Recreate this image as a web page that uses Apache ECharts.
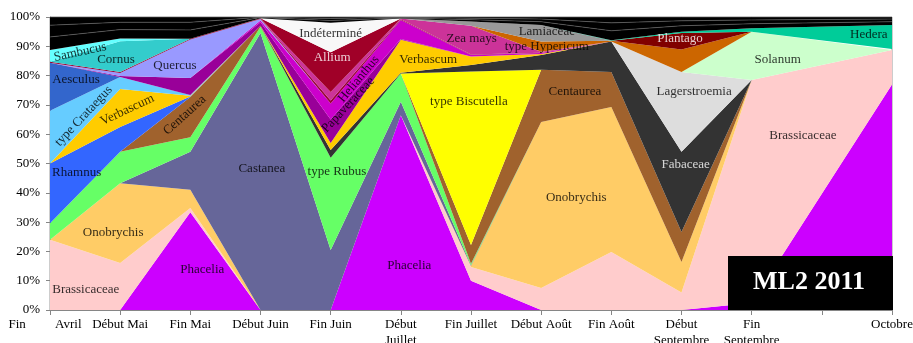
<!DOCTYPE html>
<html>
<head>
<meta charset="utf-8">
<script src="https://cdn.jsdelivr.net/npm/echarts@6/dist/echarts.min.js"></script>
<style>
html,body{margin:0;padding:0;background:#fff}
#chart{width:913px;height:343px}
</style>
</head>
<body>
<div id="chart"></div>
<script>
// dates de prélèvement (position sur l'axe) et libellés des graduations
var xPos = [0, 1, 2, 3, 4, 5, 6, 7, 8, 9, 10, 12];
var tickLabels = ['Fin         Avril', 'Début Mai', 'Fin Mai', 'Début Juin', 'Fin Juin', 'Début\nJuillet',
  'Fin Juillet', 'Début Août', 'Fin Août', 'Début\nSeptembre', 'Fin\nSeptembre', '', 'Octobre'];

// pourcentages par taxon (ordre d'empilement, du bas vers le haut)
var phacelia      = [0, 0, 33.4, 0, 0, 66.5, 10, 0, 0, 0, 2.4, 77];
var brassicaceae  = [24, 16, 1.4, 0, 0, 0, 4.7, 7.5, 19.8, 6, 76.1, 11.7];
var onobrychis    = [0, 27.3, 6.2, 0, 0, 0, 0.3, 56.7, 49.5, 10.4, 0, 0];
var castanea      = [0, 0, 13, 94.5, 20.5, 4.6, 0.3, 0, 0, 0, 0, 0];
var rubus         = [5.6, 10.7, 5, 2.2, 31.5, 9.6, 0.5, 0, 0, 0, 0, 0];
var centaurea     = [0, 0, 13.7, 0.3, 0, 0, 6.4, 17.8, 11.9, 10.2, 0, 0];
var rhamnus       = [20.4, 8.5, 0.2, 0, 0, 0, 0, 0, 0, 0, 0, 0];
var biscutella    = [0, 0, 0, 0, 0, 0, 59.2, 0, 0, 0, 0, 0];
var fabaceae      = [0, 0, 0, 0, 2.6, 0.3, 2.2, 5, 10.4, 27.4, 0, 0];
var verbascum     = [0, 12.9, 0.2, 0, 2.4, 11.2, 2.9, 0.4, 0, 0, 0, 0];
var crataegus     = [18, 4.1, 0.2, 0, 0, 0, 0, 0, 0, 0, 0, 0];
var aesculus      = [16.4, 0, 0.1, 0, 0, 0, 0, 0, 0, 0, 0, 0];
var papaveraceae  = [0, 0.4, 5.8, 1.2, 8, 0.3, 0, 0, 0, 0, 0, 0];
var helianthus    = [0, 0, 0, 0.6, 5.5, 6.5, 0.5, 0.3, 0, 0, 0, 0];
var quercus       = [0, 1, 13.1, 0.5, 0, 0, 0, 0, 0, 0, 0, 0];
var autreRouge    = [0.3, 0.3, 0.3, 0.2, 1, 0.2, 0.2, 0.1, 0, 0, 0, 0];
var zeaMays       = [0, 0, 0, 0, 2.9, 0.3, 9.8, 0.3, 0, 0, 0, 0];
var allium        = [0, 0, 0, 0.1, 13.6, 0, 0, 0, 0, 0, 0, 0];
var cornus        = [0, 10.5, 0, 0, 0, 0, 0, 0, 0, 0, 0, 0];
var sambucus      = [4, 1, 0, 0, 0, 0, 0, 0, 0, 0, 0, 0];
var lagerstroemia = [0, 0, 0, 0, 0, 0, 0, 0, 0, 27.2, 0, 0];
var solanum       = [0, 0, 0, 0, 0, 0, 0, 0, 0, 0, 16.5, 0];
var hypericum     = [0, 0, 0, 0, 0, 0, 0, 3.5, 0.3, 7.7, 0, 0.4];
var lamiaceae     = [0, 0, 0, 0, 0, 0, 1.5, 5.7, 0, 0, 0, 0];
var plantago      = [0, 0, 0, 0, 0, 0, 0, 0, 0, 5.6, 0, 0];
var indetermine   = [0, 0, 0, 0, 10, 0, 0, 0, 0, 0, 0, 0];
var hedera        = [0, 0, 0, 0, 0, 0, 0, 0, 0.2, 0.5, 1.2, 8.2];
var autres1       = [4.5, 3, 3, 0.2, 0.8, 0.2, 0.6, 1.1, 3.2, 2, 1.5, 1.1];
var autres2       = [4, 2.5, 2.6, 0.1, 0.7, 0.2, 0.5, 0.9, 2.7, 1.7, 1.3, 0.9];
var autres3       = [2.8, 1.8, 1.8, 0.1, 0.5, 0.1, 0.4, 0.7, 2, 1.3, 1, 0.7];

var taxa = [
  ['Phacelia', phacelia, '#CC00FF'],
  ['Brassicaceae', brassicaceae, '#FFCCCC'],
  ['Onobrychis', onobrychis, '#FFCC66'],
  ['Castanea', castanea, '#666699'],
  ['type Rubus', rubus, '#66FF66'],
  ['Centaurea', centaurea, '#A0622D'],
  ['Rhamnus', rhamnus, '#3366FF'],
  ['type Biscutella', biscutella, '#FFFF00'],
  ['Fabaceae', fabaceae, '#333333'],
  ['Verbascum', verbascum, '#FFCC00'],
  ['type Crataegus', crataegus, '#66CCFF'],
  ['Aesculus', aesculus, '#3366CC'],
  ['Papaveraceae', papaveraceae, '#990099'],
  ['Helianthus', helianthus, '#CC00CC'],
  ['Quercus', quercus, '#9999FF'],
  ['Autre', autreRouge, '#990033'],
  ['Zea mays', zeaMays, '#CC3399'],
  ['Allium', allium, '#A00028'],
  ['Cornus', cornus, '#33CCCC'],
  ['Sambucus', sambucus, '#66FFFF'],
  ['Lagerstroemia', lagerstroemia, '#DDDDDD'],
  ['Solanum', solanum, '#CCFFCC'],
  ['type Hypericum', hypericum, '#CC6600'],
  ['Lamiaceae', lamiaceae, '#999999'],
  ['Plantago', plantago, '#800000'],
  ['Indéterminé', indetermine, '#F8F8F8'],
  ['Hedera', hedera, '#00CC99'],
  ['Autres 1', autres1, '#000000'],
  ['Autres 2', autres2, '#000000'],
  ['Autres 3', autres3, '#000000']
];

// étiquettes posées dans le repère des données : [texte, x, y, rotation, couleur]
var areaLabels = [
  ['Sambucus', 0.43, 88, 12, '#000'],
  ['Cornus', 0.94, 85.3, 0, '#000'],
  ['Quercus', 1.78, 83.3, 0, '#000'],
  ['Aesculus', 0.37, 78.5, 0, '#000'],
  ['type Crataegus', 0.48, 66.2, 47, '#000'],
  ['Verbascum', 1.1, 68.3, 25, '#000'],
  ['Centaurea', 1.92, 66.5, 42, '#000'],
  ['Rhamnus', 0.38, 46.8, 0, '#000'],
  ['Castanea', 3.02, 48.1, 0, '#000'],
  ['type Rubus', 4.09, 47.1, 0, '#000'],
  ['Onobrychis', 0.9, 26.3, 0, '#000'],
  ['Phacelia', 2.17, 13.7, 0, '#000'],
  ['Brassicaceae', 0.51, 6.8, 0, '#000'],
  ['Phacelia', 5.12, 15, 0, '#000'],
  ['Indéterminé', 4.0, 94.2, 0, '#000'],
  ['Allium', 4.02, 86, 0, '#fff'],
  ['Helianthus', 4.4, 78.8, 50, '#000'],
  ['Papaveraceae', 4.25, 70, 47, '#000'],
  ['Verbascum', 5.39, 85.3, 0, '#000'],
  ['Zea mays', 6.01, 92.5, 0, '#000'],
  ['type Hypericum', 7.08, 89.8, 0, '#000'],
  ['Lamiaceae', 7.08, 94.9, 0, '#000'],
  ['type Biscutella', 5.97, 71, 0, '#000'],
  ['Centaurea', 7.48, 74.4, 0, '#000'],
  ['Onobrychis', 7.5, 38.2, 0, '#000'],
  ['Plantago', 8.98, 92.8, 0, '#fff'],
  ['Lagerstroemia', 9.18, 74.7, 0, '#000'],
  ['Fabaceae', 9.06, 49.5, 0, '#fff'],
  ['Solanum', 10.37, 85.3, 0, '#000'],
  ['Hedera', 11.67, 93.9, 0, '#000'],
  ['Brassicaceae', 10.73, 59.7, 0, '#000']
];

var serif = '"Liberation Serif", "Times New Roman", serif';

var series = taxa.map(function (t) {
  var black = t[2] === '#000000';
  return {
    name: t[0],
    type: 'line',
    stack: 'total',
    symbol: 'none',
    silent: true,
    encode: { x: 1, y: 0 },
    lineStyle: black ? { width: 0.6, color: '#6a6a6a' } : { width: 0 },
    areaStyle: { color: t[2], opacity: 1 },
    data: t[1].map(function (v, i) { return [v, xPos[i]]; })
  };
});

series.push({
  type: 'scatter',
  silent: true,
  z: 10,
  symbolSize: 1,
  itemStyle: { color: 'rgba(0,0,0,0)' },
  label: {
    show: true,
    position: 'inside',
    formatter: '{b}',
    fontFamily: serif,
    fontSize: 13
  },
  data: areaLabels.map(function (l) {
    return { name: l[0], value: [l[1], l[2]], label: { rotate: l[3], color: l[4] } };
  })
});

var myChart = echarts.init(document.getElementById('chart'));
myChart.setOption({
  animation: false,
  grid: {
    left: 50, right: 21, top: 17, bottom: 33,
    outerBoundsMode: 'none',
    containLabel: false,
    show: true, borderColor: '#9a9a9a', borderWidth: 1
  },
  xAxis: {
    type: 'value',
    min: 0, max: 12, interval: 1,
    splitLine: { show: false },
    axisLine: { lineStyle: { color: '#868686' } },
    axisTick: { length: 5, lineStyle: { color: '#868686' } },
    axisLabel: {
      margin: 7,
      color: '#000',
      fontFamily: serif,
      fontSize: 13,
      lineHeight: 16,
      showMinLabel: true,
      showMaxLabel: true,
      hideOverlap: false,
      formatter: function (v) {
        if (v === 0) return '{first|' + tickLabels[0] + '}';
        return tickLabels[v] || '';
      },
      rich: {
        first: { fontFamily: serif, fontSize: 13, color: '#000', padding: [0, 10, 0, 0] }
      }
    }
  },
  yAxis: {
    type: 'value',
    min: 0, max: 100, interval: 10,
    splitLine: { show: false },
    axisLine: { show: true, lineStyle: { color: '#868686' } },
    axisTick: { show: true, length: 4, lineStyle: { color: '#868686' } },
    axisLabel: { formatter: '{value}%', color: '#000', fontFamily: serif, fontSize: 13, margin: 10 }
  },
  graphic: [
    { type: 'rect', left: 728, top: 256, z: 100, shape: { width: 165, height: 54 }, style: { fill: '#000' } },
    { type: 'text', left: 753, top: 269, z: 101,
      style: { text: 'ML2 2011', fill: '#fff', font: 'bold 26px "Liberation Serif", serif' } }
  ],
  series: series
});
</script>
</body>
</html>
